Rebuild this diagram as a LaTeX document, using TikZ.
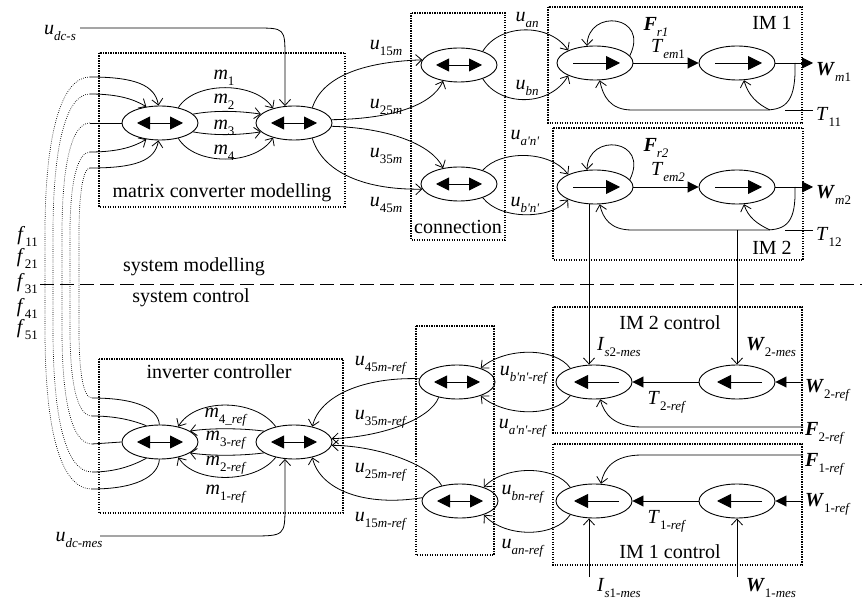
\documentclass[tikz,border=0pt]{standalone}
\usepackage{fontspec}
\setmainfont{Liberation Serif}
\usetikzlibrary{arrows.meta,shapes.geometric}
\newcommand\sbs[1]{\raisebox{-0.3em}{\fontsize{13}{13}\selectfont #1}}
\newcommand\iv[2]{\textit{#1}\sbs{#2}}
\newcommand\bv[2]{\textbf{\textit{#1}}\sbs{#2}}
\newcommand\qq{\textquotesingle}
\begin{document}
\begin{tikzpicture}[x=1pt,y=-1pt,
  el/.style={draw,ellipse,minimum width=76pt,minimum height=34pt,inner sep=0pt,line width=0.9pt},
  con/.style={-{Straight Barb[length=6pt,width=11pt]},line width=0.8pt},
  fil/.style={-{Triangle[length=11pt,width=11pt]},line width=0.9pt},
  dbl/.style={{Triangle[length=13pt,width=13pt]}-{Triangle[length=13pt,width=13pt]},line width=0.9pt},
  sgl/.style={-{Triangle[length=14pt,width=14pt]},line width=0.9pt},
  dbox/.style={line width=1.4pt,dash pattern=on 1.4pt off 1.1pt},
  dots/.style={line width=0.7pt,dash pattern=on 0.7pt off 1.4pt},
  lbl/.style={font=\fontsize{20}{22}\selectfont,inner sep=0pt},
  sepline/.style={line width=1pt,dash pattern=on 14pt off 6pt},
  plain/.style={line width=0.8pt}]
\useasboundingbox (0,0) rectangle (862,601);
% ---------- dotted boxes
\draw[dbox] (99,53) rectangle (345,207);
\draw[dbox] (411,13) rectangle (505,240);
\draw[dbox] (548,7) rectangle (802,123);
\draw[dbox] (553,128) rectangle (803,260);
\draw[dbox] (99,359) rectangle (343,513);
\draw[dbox] (416,326) rectangle (494,555);
\draw[dbox] (553,307) rectangle (802,433);
\draw[dbox] (553,444) rectangle (802,565);
% ---------- ellipses
\node[el] (A1) at (160,123) {};
\node[el] (A2) at (294,123) {};
\node[el] (C1) at (459,65) {};
\node[el] (C2) at (459,184) {};
\node[el] (E1) at (595,63) {};
\node[el] (E2) at (737,63) {};
\node[el] (E3) at (595,187) {};
\node[el] (E4) at (737,187) {};
\node[el] (B1) at (160,442) {};
\node[el] (B2) at (294,442) {};
\node[el] (D1) at (457,382) {};
\node[el] (D2) at (460,501) {};
\node[el] (E5) at (594,382) {};
\node[el] (E6) at (737,382) {};
\node[el] (E7) at (594,501) {};
\node[el] (E8) at (737,501) {};
\foreach \n in {A1,A2,C1,C2,B1,B2,D1,D2}
  \draw[dbl] ([xshift=-23pt]\n.center) -- ([xshift=23pt]\n.center);
\foreach \n in {E1,E2,E3,E4}
  \draw[sgl] ([xshift=-22pt]\n.center) -- ([xshift=25pt]\n.center);
\foreach \n in {E5,E6,E7,E8}
  \draw[sgl] ([xshift=25pt]\n.center) -- ([xshift=-20pt]\n.center);
% ---------- inputs of A1
\coordinate (i1) at (90,77);
\coordinate (i2) at (90,94);
\coordinate (i3) at (90,123);
\coordinate (i4) at (90,152);
\coordinate (i5) at (90,168);
\draw[con] (i1) .. controls (135,77) and (155,85) .. (A1.95);
\draw[con] (i2) .. controls (120,94) and (135,100) .. (A1.130);
\draw[plain] (i3) -- (A1.west);
\draw[con] (i4) .. controls (120,152) and (135,146) .. (A1.-130);
\draw[con] (i5) .. controls (135,168) and (155,161) .. (A1.-95);
% ---------- outputs of B1
\coordinate (o1) at (92,398);
\coordinate (o2) at (92,416);
\coordinate (o3) at (92,444);
\coordinate (o4) at (92,472);
\coordinate (o5) at (92,489);
\draw[plain] (B1.92) .. controls (158,408) and (135,398) .. (o1);
\draw[plain] (B1.130) .. controls (132,420) and (115,416) .. (o2);
\draw[plain] (B1.west) -- (o3);
\draw[plain] (B1.-130) .. controls (132,466) and (115,472) .. (o4);
\draw[plain] (B1.-92) .. controls (158,477) and (135,489) .. (o5);
% ---------- dotted links
\draw[dots] (i1) .. controls (60,77) and (45,139) .. (45,233) -- (45,330) .. controls (45,425) and (59,489) .. (o5);
\draw[dots] (i2) .. controls (65,94) and (53,150) .. (53,233) -- (53,330) .. controls (53,415) and (65,472) .. (o4);
\draw[dots] (i3) .. controls (71,123) and (62,167) .. (62,233) -- (62,330) .. controls (62,398) and (71,444) .. (o3);
\draw[dots] (i4) .. controls (77,152) and (70,184) .. (70,233) -- (70,330) .. controls (70,382) and (77,416) .. (o2);
\draw[dots] (i5) .. controls (83,168) and (79,194) .. (79,233) -- (79,330) .. controls (79,371) and (83,398) .. (o1);
% ---------- f labels and separator
\node[lbl,anchor=east] (f11) at (38,236) {\iv{f}{11}};
\node[lbl,anchor=east] (f21) at (38,258) {\iv{f}{21}};
\node[lbl,anchor=east] (f31) at (38,284) {\iv{f}{31}};
\node[lbl,anchor=east] (f41) at (38,308) {\iv{f}{41}};
\node[lbl,anchor=east] (f51) at (38,330) {\iv{f}{51}};
\coordinate (sepA) at (40,285);
\coordinate (sepB) at (862,285);
\draw[sepline] (sepA) -- (sepB);
\node[lbl] (tsm) at (194,267) {system modelling};
\node[lbl] (tsc) at (191,298) {system control};
% ---------- u_dc-s
\node[lbl] (udcs) at (60,33) {\iv{u}{\textit{dc-s}}};
\coordinate (udcsA) at (80,28);
\draw[con] (udcsA) -- (255,28) .. controls (285,28) .. (285,58) -- (A2.118);
% ---------- matrix converter
\draw[con] (A1.40) .. controls (195,81) and (255,81) .. (A2.145);
\draw[con] (A1.15) .. controls (215,110) and (240,111) .. (A2.165);
\draw[con] (A1.-15) .. controls (215,136) and (240,135) .. (A2.-165);
\draw[con] (A1.-40) .. controls (195,166) and (255,166) .. (A2.-145);
\node[lbl] (lm1) at (224,78) {\iv{m}{1}};
\node[lbl] (lm2) at (224,102) {\iv{m}{2}};
\node[lbl] (lm3) at (224,128) {\iv{m}{3}};
\node[lbl] (lm4) at (224,153) {\iv{m}{4}};
\node[lbl] (tmcm) at (222,193) {matrix converter modelling};
% ---------- to connection
\draw[con] (A2.40) .. controls (322,78) and (360,62) .. (C1.172);
\draw[con] (A2.5) .. controls (390,119) and (432,106) .. (C1.225);
\draw[con] (A2.-5) .. controls (390,128) and (432,145) .. (C2.135);
\draw[con] (A2.-40) .. controls (322,170) and (360,190) .. (C2.188);
\node[lbl] (lu15) at (386,48) {\iv{u}{15\textit{m}}};
\node[lbl] (lu25) at (386,107) {\iv{u}{25\textit{m}}};
\node[lbl] (lu35) at (386,156) {\iv{u}{35\textit{m}}};
\node[lbl] (lu45) at (386,205) {\iv{u}{45\textit{m}}};
\node[lbl] (tcon) at (458,227) {connection};
% ---------- connection to motors
\draw[con] (C1.30) .. controls (500,23) and (550,23) .. (E1.155);
\draw[con] (C1.-30) .. controls (500,107) and (550,107) .. (E1.-155);
\draw[con] (C2.30) .. controls (500,150) and (550,150) .. (E3.155);
\draw[con] (C2.-30) .. controls (500,220) and (550,220) .. (E3.-155);
\node[lbl] (luan) at (527,20) {\iv{u}{\textit{an}}};
\node[lbl] (lubn) at (527,88) {\iv{u}{\textit{bn}}};
\node[lbl] (luan2) at (525,138) {\iv{u}{\textit{a\qq n\qq}}};
\node[lbl] (lubn2) at (525,205) {\iv{u}{\textit{b\qq n\qq}}};
% ---------- IM 1
\draw[con] (E1.12) .. controls (650,15) and (588,8) .. (E1.115);
\draw[fil] (E1.east) -- (E2.west);
\coordinate (wm1) at (813,63);
\draw[fil] (E2.east) -- (wm1);
\coordinate (fb1) at (795,63);
\draw[con] (fb1) .. controls (796,100) and (787,110) .. (765,110) -- (632,110) .. controls (610,110) and (603,96) .. (E1.-75);
\coordinate (fb1b) at (770,110);
\draw[con] (fb1b) .. controls (757,104) and (748,95) .. (E2.-68);
\coordinate (tl1a) at (785,110);
\coordinate (tl1b) at (813,110);
\draw[plain] (tl1a) -- (tl1b);
\node[lbl] (lfr1) at (656,27) {\bv{F}{\textit{r1}}};
\node[lbl] (ltem1) at (668,49) {\iv{T}{\textit{em}1}};
\node[lbl,anchor=west] (lwm1) at (816,72) {\bv{W}{\textit{m}1}};
\node[lbl,anchor=west] (ltl1) at (816,117) {\iv{T}{11}};
\node[lbl] (tim1) at (772,23) {IM 1};
% ---------- IM 2
\draw[con] (E3.12) .. controls (650,139) and (588,132) .. (E3.115);
\draw[fil] (E3.east) -- (E4.west);
\coordinate (wm2) at (813,187);
\draw[fil] (E4.east) -- (wm2);
\coordinate (fb2) at (795,187);
\draw[con] (fb2) .. controls (796,222) and (787,230) .. (765,230) -- (632,230) .. controls (610,230) and (603,218) .. (E3.-75);
\coordinate (fb2b) at (770,230);
\draw[con] (fb2b) .. controls (757,224) and (748,217) .. (E4.-68);
\coordinate (tl2a) at (785,230);
\coordinate (tl2b) at (813,230);
\draw[plain] (tl2a) -- (tl2b);
\node[lbl] (lfr2) at (656,148) {\bv{F}{\textit{r2}}};
\node[lbl] (ltem2) at (668,172) {\iv{T}{\textit{em2}}};
\node[lbl,anchor=west] (lwm2) at (816,195) {\bv{W}{\textit{m}2}};
\node[lbl,anchor=west] (ltl2) at (816,237) {\iv{T}{12}};
\node[lbl] (tim2) at (772,248) {IM 2};
% ---------- measurements
\draw[con] ([xshift=-6pt]E3.south) -- ([xshift=-5pt]E5.north);
\coordinate (w2mA) at (737,230);
\draw[con] (w2mA) -- (E6.north);
% ---------- IM 2 control
\coordinate (w2r) at (803,382);
\draw[fil] (w2r) -- (E6.east);
\draw[fil] (E6.west) -- (E5.east);
\coordinate (f2r) at (803,427);
\draw[con] (f2r) -- (642,427) .. controls (614,427) and (604,414) .. (E5.-70);
\node[lbl] (tim2c) at (670,323) {IM 2 control};
\node[lbl] (lis2) at (619,347) {\iv{I}{\textit{s}2\textit{-mes}}};
\node[lbl] (lw2m) at (771,347) {\bv{W}{2\textit{-mes}}};
\node[lbl,anchor=west] (lw2r) at (805,390) {\bv{W}{2\textit{-ref}}};
\node[lbl] (lt2r) at (667,402) {\iv{T}{2\textit{-ref}}};
\node[lbl,anchor=west] (lf2r) at (805,433) {\bv{F}{2\textit{-ref}}};
% ---------- IM 1 control
\coordinate (f1r) at (803,455);
\draw[con] (f1r) -- (642,455) .. controls (614,455) and (604,468) .. (E7.68);
\coordinate (w1r) at (803,501);
\draw[fil] (w1r) -- (E8.east);
\draw[fil] (E8.west) -- (E7.east);
\coordinate (is1) at (589,577);
\draw[con] (is1) -- ([xshift=-5pt]E7.south);
\coordinate (w1m) at (737,577);
\draw[con] (w1m) -- (E8.south);
\node[lbl,anchor=west] (lf1r) at (805,464) {\bv{F}{1\textit{-ref}}};
\node[lbl,anchor=west] (lw1r) at (805,504) {\bv{W}{1\textit{-ref}}};
\node[lbl] (lt1r) at (667,521) {\iv{T}{1\textit{-ref}}};
\node[lbl] (tim1c) at (670,552) {IM 1 control};
\node[lbl] (lis1) at (619,588) {\iv{I}{\textit{s}1\textit{-mes}}};
\node[lbl] (lw1m) at (771,588) {\bv{W}{1\textit{-mes}}};
% ---------- control to connection
\draw[con] (E5.150) .. controls (555,347) and (505,347) .. (D1.30);
\draw[con] (E5.-150) .. controls (555,417) and (505,417) .. (D1.-30);
\draw[con] (E7.150) .. controls (555,465) and (505,465) .. (D2.30);
\draw[con] (E7.-150) .. controls (555,538) and (505,538) .. (D2.-30);
\node[lbl] (lubnr2) at (524,375) {\iv{u}{\textit{b\qq n\qq-ref}}};
\node[lbl] (luanr2) at (523,428) {\iv{u}{\textit{a\qq n\qq-ref}}};
\node[lbl] (lubnr) at (523,494) {\iv{u}{\textit{bn-ref}}};
\node[lbl] (luanr) at (523,548) {\iv{u}{\textit{an-ref}}};
% ---------- connection to inverter
\draw[con] (D1.175) .. controls (365,377) and (320,395) .. (B2.40);
\draw[con] (D1.-140) .. controls (430,420) and (380,437) .. (B2.5);
\draw[con] (D2.140) .. controls (430,465) and (380,446) .. (B2.-5);
\draw[con] (D2.175) .. controls (365,507) and (320,490) .. (B2.-40);
\node[lbl] (lu45r) at (381,365) {\iv{u}{45\textit{m-ref}}};
\node[lbl] (lu35r) at (381,419) {\iv{u}{35\textit{m-ref}}};
\node[lbl] (lu25r) at (381,472) {\iv{u}{25\textit{m-ref}}};
\node[lbl] (lu15r) at (381,521) {\iv{u}{15\textit{m-ref}}};
% ---------- inverter controller
\draw[con] (B2.140) .. controls (255,398) and (195,398) .. (B1.40);
\draw[con] (B2.160) .. controls (240,428) and (210,428) .. (B1.20);
\draw[con] (B2.-160) .. controls (240,456) and (210,456) .. (B1.-20);
\draw[con] (B2.-140) .. controls (255,484) and (195,484) .. (B1.-40);
\node[lbl] (lm4r) at (226,417) {\iv{m}{4\textit{\_ref}}};
\node[lbl] (lm3r) at (226,440) {\iv{m}{3\textit{-ref}}};
\node[lbl] (lm2r) at (226,465) {\iv{m}{2\textit{-ref}}};
\node[lbl] (lm1r) at (226,494) {\iv{m}{1\textit{-ref}}};
\node[lbl] (tic) at (219,372) {inverter controller};
\node[lbl] (udcm) at (79,540) {\iv{u}{\textit{dc-mes}}};
\coordinate (udcmA) at (100,536);
\draw[con] (udcmA) -- (250,536) .. controls (285,536) .. (285,505) -- (B2.-118);
\end{tikzpicture}
\end{document}
